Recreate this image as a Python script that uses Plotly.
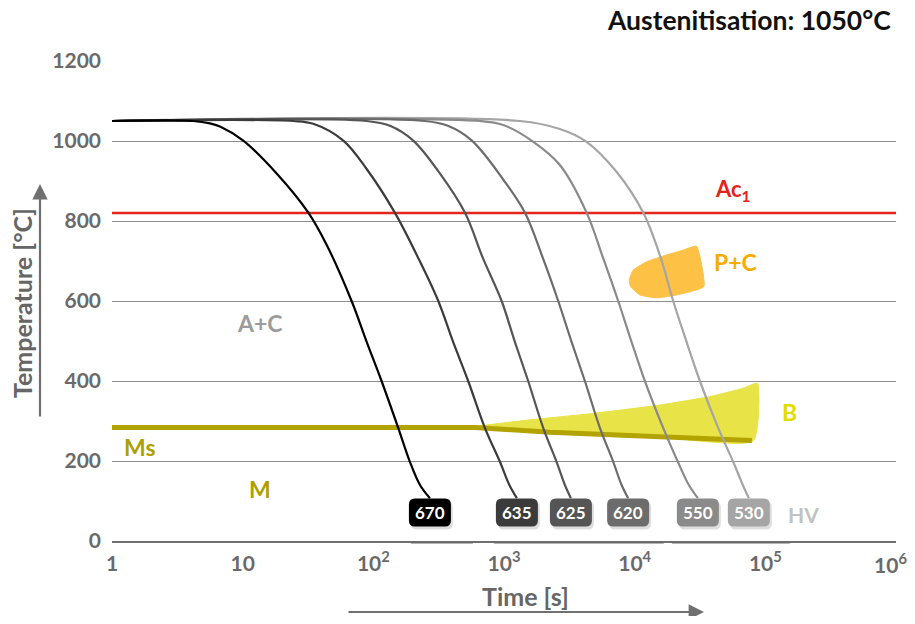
import numpy as np
import plotly.graph_objects as go

# ---------------- data ----------------
FONT = "Lato"

hardness_labels = ["670", "635", "625", "620", "550", "530"]
curve_colors = ["#000000", "#3b3b3b", "#555555", "#6c6c6c", "#8a8a8a", "#a5a5a5"]

t_670 = [1, 4.17, 5.62, 6.70, 10.1, 18.2, 31.8, 44.0, 68.2, 88.9, 115.6, 155, 190.5, 227.5, 271]
T_670 = [1050, 1050, 1044, 1036, 1001, 919, 821, 740, 600, 498, 400, 283, 198, 140, 107]

t_635 = [1, 24.4, 34.7, 58.9, 88.9, 146, 221, 314, 408, 532, 714, 931, 1099, 1255]
T_635 = [1050, 1050, 1043, 1001, 930, 821, 707, 600, 498, 400, 283, 198, 140, 107]

t_625 = [1, 88.9, 134, 202, 323, 502, 690, 959, 1211, 1531, 1995, 2525, 2924, 3251]
T_625 = [1050, 1050, 1038, 1001, 919, 821, 707, 600, 498, 400, 283, 198, 140, 107]

t_620 = [1, 248, 372, 568, 1016, 1445, 1985, 2600, 3289, 4159, 5420, 6855, 7943, 8913]
T_620 = [1050, 1050, 1038, 1001, 898, 821, 707, 600, 498, 400, 283, 198, 140, 107]

t_550 = [1, 654, 986, 1626, 2677, 4285, 5741, 7482, 9462, 11967, 16520, 21400, 25980, 30450]
T_550 = [1050, 1050, 1040, 1001, 940, 821, 707, 600, 498, 400, 283, 198, 140, 107]

t_530 = [1, 1324, 2677, 4285, 7263, 11614, 15860, 19720, 24950, 31550, 43550, 56750, 67260, 74770]
T_530 = [1050, 1050, 1030, 998, 923, 821, 707, 600, 498, 400, 283, 198, 140, 107]

curves_t = [t_670, t_635, t_625, t_620, t_550, t_530]
curves_T = [T_670, T_635, T_625, T_620, T_550, T_530]

label_temp = 71  # centre of hardness boxes

ac1_temp = 820
ac1_t = [1, 1e6]

ms_t = [1, 600, 2245, 13060, 78900]
ms_T = [284, 284, 272, 262, 251]

bainite_t = [548, 1489, 4816, 15600, 37600, 67600, 87100, 80700, 13060, 2245, 548]
bainite_T = [285, 302, 319, 340, 361, 382, 394, 250, 262, 273, 284]

pc_t = [29780, 33830, 20900, 14690, 10960, 9310, 9080, 9730, 12330, 17540, 23500, 29780]
pc_T = [737, 636, 615, 608, 615, 636, 652, 677, 698, 715, 727, 737]

x_tickvals = [1, 10, 100, 1000, 10000, 100000, 1000000]
x_ticktext = ["1", "10", "10<sup>2</sup>", "10<sup>3</sup>", "10<sup>4</sup>", "10<sup>5</sup>", "10<sup>6</sup>"]
y_tickvals = [0, 200, 400, 600, 800, 1000, 1200]

# ---------------- figure ----------------
fig = go.Figure()

# bainite region
fig.add_trace(go.Scatter(x=bainite_t, y=bainite_T, mode="lines", fill="toself",
                         fillcolor="#e8e347", line=dict(color="#e8e347", width=1, shape="spline", smoothing=0.5),
                         hoverinfo="skip", showlegend=False))
# pearlite + carbide region
fig.add_trace(go.Scatter(x=pc_t, y=pc_T, mode="lines", fill="toself",
                         fillcolor="#fcc145", line=dict(color="#fcc145", width=1, shape="spline", smoothing=0.4),
                         hoverinfo="skip", showlegend=False))
# Ms line
fig.add_trace(go.Scatter(x=ms_t, y=ms_T, mode="lines",
                         line=dict(color="#b3a300", width=5),
                         hoverinfo="skip", showlegend=False))
# Ac1 line
fig.add_trace(go.Scatter(x=ac1_t, y=[ac1_temp, ac1_temp], mode="lines",
                         line=dict(color="#e3271c", width=2.5),
                         hoverinfo="skip", showlegend=False))

# cooling curves (lightest first so darker ones lie on top)
for t, T, c in reversed(list(zip(curves_t, curves_T, curve_colors))):
    fig.add_trace(go.Scatter(x=t, y=T, mode="lines",
                             line=dict(color=c, width=2.2, shape="spline", smoothing=1.0),
                             hoverinfo="skip", showlegend=False))

shapes = []
annotations = []

# rounded hardness boxes with shadow
w, h, r = 21, 14, 6
def rrect(dx=0, dy=0):
    return (f"M {-w+r+dx},{-h+dy} L {w-r+dx},{-h+dy} Q {w+dx},{-h+dy} {w+dx},{-h+r+dy} "
            f"L {w+dx},{h-r+dy} Q {w+dx},{h+dy} {w-r+dx},{h+dy} L {-w+r+dx},{h+dy} "
            f"Q {-w+dx},{h+dy} {-w+dx},{h-r+dy} L {-w+dx},{-h+r+dy} Q {-w+dx},{-h+dy} {-w+r+dx},{-h+dy} Z")

for t, lab, c in zip(curves_t, hardness_labels, curve_colors):
    xa = t[-1]
    shapes.append(dict(type="path", xref="x", yref="y", xsizemode="pixel", ysizemode="pixel",
                       xanchor=xa, yanchor=label_temp, path=rrect(2, -3),
                       fillcolor="rgba(0,0,0,0.13)", line=dict(width=0), layer="above"))
    shapes.append(dict(type="path", xref="x", yref="y", xsizemode="pixel", ysizemode="pixel",
                       xanchor=xa, yanchor=label_temp, path=rrect(),
                       fillcolor=c, line=dict(width=0), layer="above"))
    annotations.append(dict(x=np.log10(xa), y=label_temp, xref="x", yref="y", text=f"<b>{lab}</b>",
                            showarrow=False, font=dict(family=FONT, size=17, color="white")))

# dark baseline segments below the boxes
for a, b in [(194, 578), (837, 16700), (19270, 153900)]:
    shapes.append(dict(type="line", xref="x", yref="paper", x0=a, x1=b, y0=-0.003, y1=-0.003,
                       line=dict(color="#6a6a6a", width=2), layer="above"))

# region / line labels
def lab(x, y, text, color, size=23):
    annotations.append(dict(x=np.log10(x), y=y, xref="x", yref="y", text=text, showarrow=False,
                            font=dict(family=FONT, size=size, color=color, weight=700)))

lab(13.6, 545, "A+C", "#9b9b9b")
lab(1.64, 235, "Ms", "#ada000")
lab(13.6, 129, "M", "#ada000")
lab(154000, 322, "B", "#e2dc00")
lab(59400, 697, "P+C", "#f7ab00")
lab(57000, 878, "Ac<sub>1</sub>", "#e2231a", 22)
lab(197000, 66, "HV", "#c2c2c2", 21)

# window-pixel helpers (plot area spans x 112..896, y 61..541 of the window)
def px2paper_x(px):
    return (px - 112) / 784
def px2paper_y(py):
    return (541 - py) / 480

tickfont = dict(family=FONT, size=21, color="#6a6a6a", weight=700)

# last x tick label drawn as an annotation so it is not dropped at the figure edge
annotations.append(dict(x=np.log10(x_tickvals[-1]), y=px2paper_y(563), xref="x", yref="paper",
                        text=x_ticktext[-1], showarrow=False, xanchor="center", yanchor="middle",
                        xshift=-6, font=tickfont))

annotations.append(dict(x=px2paper_x(893), y=px2paper_y(20), xref="paper", yref="paper",
                        text="<b>Austenitisation: 1050°C</b>", showarrow=False,
                        xanchor="right", yanchor="middle",
                        font=dict(family=FONT, size=26.5, color="#111111")))
annotations.append(dict(x=px2paper_x(22), y=px2paper_y(303), xref="paper", yref="paper",
                        text="Temperature [°C]", textangle=-90, showarrow=False,
                        xanchor="center", yanchor="middle",
                        font=dict(family=FONT, size=25, color="#666666", weight=700)))
annotations.append(dict(x=px2paper_x(525), y=px2paper_y(596), xref="paper", yref="paper",
                        text="Time [s]", showarrow=False, xanchor="center", yanchor="middle",
                        font=dict(family=FONT, size=25, color="#666666", weight=700)))
annotations.append(dict(x=px2paper_x(40), y=px2paper_y(184), xref="paper", yref="paper", text="",
                        showarrow=True, ax=0, ay=234, arrowhead=2, arrowsize=1.4, arrowwidth=2.2,
                        arrowcolor="#707070"))
annotations.append(dict(x=px2paper_x(704), y=px2paper_y(612), xref="paper", yref="paper", text="",
                        showarrow=True, ax=-357, ay=0, arrowhead=2, arrowsize=1.4, arrowwidth=2.2,
                        arrowcolor="#707070"))

# the page body keeps its default 8px margin: the figure spans window x 8..915
# and y 8..616, so the plot area lands at x 112..896, y 61..541 of the window
fig.update_layout(
    width=907, height=608, autosize=False,
    margin=dict(l=104, r=19, t=53, b=75),
    plot_bgcolor="white", paper_bgcolor="white",
    shapes=shapes, annotations=annotations,
    showlegend=False,
    xaxis=dict(type="log", range=[0, 6], tickvals=x_tickvals[:-1], ticktext=x_ticktext[:-1],
               showgrid=False, zeroline=False, showline=True, linecolor="#707070", linewidth=1.5,
               ticks="", ticklabelstandoff=3, tickfont=tickfont),
    yaxis=dict(range=[0, 1200], tickvals=y_tickvals, showgrid=True, gridcolor="#8f8f8f", gridwidth=1,
               zeroline=False, showline=False, ticks="", ticklabelstandoff=10, tickfont=tickfont),
)

fig.write_html("out.html", config={"displayModeBar": False})
